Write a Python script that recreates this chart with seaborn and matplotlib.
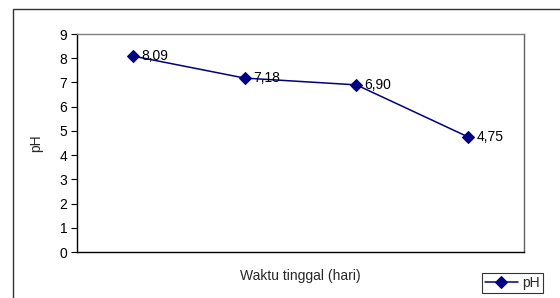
import matplotlib
matplotlib.use("Agg")
import matplotlib.pyplot as plt
import seaborn as sns
import pandas as pd
from matplotlib.patches import Rectangle

# data
waktu = ["1", "2", "3", "4"]
ph = [8.09, 7.18, 6.90, 4.75]
labels = ["8,09", "7,18", "6,90", "4,75"]

df = pd.DataFrame({"waktu": waktu, "pH": ph})

sns.set_theme(style="white")
plt.rcParams["font.family"] = ["Liberation Sans", "DejaVu Sans"]

W, H = 560, 298
fs = 10
fig = plt.figure(figsize=(W / 100, H / 100), dpi=100)
ax = fig.add_axes([77 / W, 1 - 252 / H, (524 - 77) / W, (252 - 34) / H])

# outer chart frame (right and bottom edges run off the image)
fig.patches.append(Rectangle((13 / W, -0.05), 1.0, 1 - 9 / H + 0.05,
                             transform=fig.transFigure, fill=False,
                             edgecolor="#333333", linewidth=1.0))

sns.lineplot(data=df, x="waktu", y="pH", ax=ax, color="#000080",
             marker="D", markersize=6, markeredgecolor="#000080",
             linewidth=1.1, label="pH", sort=False)

for i, (v, t) in enumerate(zip(ph, labels)):
    ax.annotate(t, (i, v), xytext=(6, 0), textcoords="offset points",
                fontsize=fs, va="center", ha="left", color="black")

ax.set_xlim(-0.5, 3.5)
ax.set_ylim(0, 9)
ax.set_yticks(range(10))
ax.set_xticks([])
ax.tick_params(axis="y", direction="out", length=4, width=0.8, labelsize=fs,
               left=True, pad=3, colors="black")
ax.set_ylabel("pH", fontsize=fs, labelpad=12)
ax.set_xlabel("Waktu tinggal (hari)", fontsize=fs, labelpad=12)

ax.spines["left"].set_color("black")
ax.spines["bottom"].set_color("black")
ax.spines["top"].set_color("#808080")
ax.spines["right"].set_color("#606060")
for s in ax.spines.values():
    s.set_linewidth(1.0)

leg = ax.legend(loc="upper left", bbox_to_anchor=(482 / W, 1 - 273 / H),
                bbox_transform=fig.transFigure, fontsize=fs, frameon=True,
                fancybox=False, borderpad=0.2, handlelength=2.4,
                handletextpad=0.3, borderaxespad=0)
leg.get_frame().set_edgecolor("black")
leg.get_frame().set_linewidth(0.8)

fig.savefig("out.png", dpi=100)
